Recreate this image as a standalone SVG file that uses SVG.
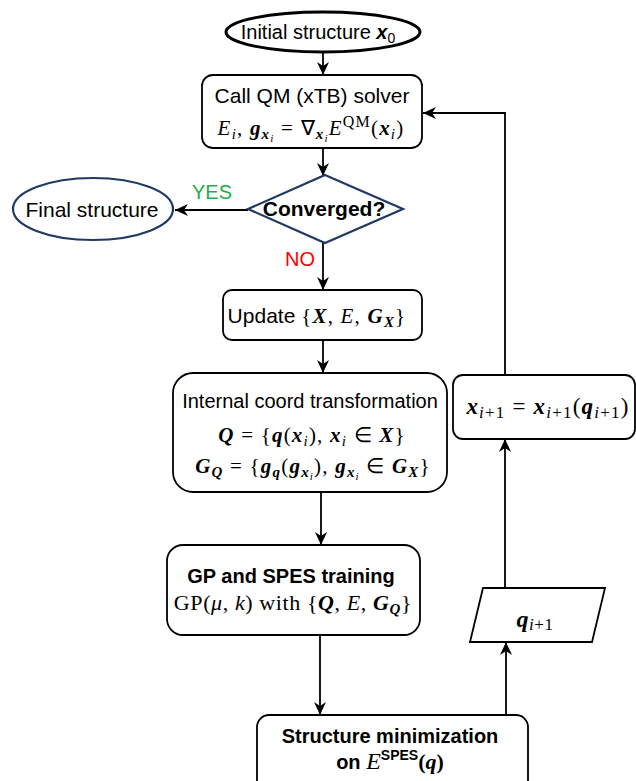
<svg xmlns="http://www.w3.org/2000/svg" width="636" height="781" viewBox="0 0 636 781">
<defs>
<marker id="arr" markerUnits="userSpaceOnUse" markerWidth="14" markerHeight="12" refX="13" refY="6" orient="auto">
<path d="M0,0 L13,6 L0,12 L4,6 z" fill="#000"/>
</marker>
<style>
.box{fill:#fff;stroke:#000;stroke-width:1.8}
.nav{fill:#fff;stroke:#1f3864;stroke-width:2.2}
.conn{fill:none;stroke:#000;stroke-width:1.8}
.sans{font-family:"Liberation Sans",Arial,sans-serif;fill:#000}
.m{font-family:"Liberation Serif","Times New Roman",serif;fill:#000;letter-spacing:1.2px}
.bi{font-weight:bold;font-style:italic}
.it{font-style:italic}
</style>
</defs>
<rect width="636" height="781" fill="#fff"/>

<g id="connectors">
<line class="conn" x1="323" y1="52" x2="323" y2="75" marker-end="url(#arr)"/>
<line class="conn" x1="323" y1="148" x2="323" y2="176" marker-end="url(#arr)"/>
<line class="conn" x1="248" y1="210" x2="175" y2="210" marker-end="url(#arr)"/>
<line class="conn" x1="323" y1="243" x2="323" y2="290" marker-end="url(#arr)"/>
<line class="conn" x1="323" y1="340" x2="323" y2="373" marker-end="url(#arr)"/>
<line class="conn" x1="321" y1="492" x2="321" y2="545" marker-end="url(#arr)"/>
<line class="conn" x1="320" y1="635" x2="320" y2="715" marker-end="url(#arr)"/>
<line class="conn" x1="506" y1="715" x2="506" y2="642" marker-end="url(#arr)"/>
<line class="conn" x1="505" y1="588" x2="505" y2="439" marker-end="url(#arr)"/>
<polyline class="conn" points="505,375 505,113 423,113" marker-end="url(#arr)"/>
<text class="sans" x="192" y="199" font-size="20" style="fill:#1fae4b">YES</text>
<text class="sans" x="285" y="266" font-size="20" style="fill:#ff0000">NO</text>
</g>

<g id="initial">
<ellipse cx="323" cy="32" rx="97" ry="20" fill="#fff" stroke="#000" stroke-width="3"/>
<text class="sans" x="318" y="39" font-size="20" text-anchor="middle">Initial structure <tspan class="bi">x</tspan><tspan font-size="14" dy="4">0</tspan></text>
</g>

<g id="callqm">
<rect class="box" x="202" y="75" width="220" height="73" rx="11"/>
<text class="sans" x="312" y="103" font-size="21" text-anchor="middle">Call QM (xTB) solver</text>
<text class="m" x="311" y="135" font-size="21" text-anchor="middle"><tspan class="it">E</tspan><tspan class="it" font-size="15" dy="4">i</tspan><tspan dy="-4">, </tspan><tspan class="bi">g</tspan><tspan class="bi" font-size="15" dy="4">x</tspan><tspan class="it" font-size="11" dy="3">i</tspan><tspan dy="-7"> = ∇</tspan><tspan class="bi" font-size="15" dy="4">x</tspan><tspan class="it" font-size="11" dy="3">i</tspan><tspan class="it" dy="-7">E</tspan><tspan font-size="16" dy="-8">QM</tspan><tspan dy="8">(</tspan><tspan class="bi">x</tspan><tspan class="it" font-size="15" dy="4">i</tspan><tspan dy="-4">)</tspan></text>
</g>

<g id="converged">
<polygon class="nav" points="325,175 403,209 325,243 248,209"/>
<text class="sans" x="324" y="216" font-size="21" font-weight="bold" text-anchor="middle">Converged?</text>
</g>

<g id="final">
<ellipse class="nav" cx="93" cy="209" rx="80" ry="31"/>
<text class="sans" x="92" y="217" font-size="21" text-anchor="middle">Final structure</text>
</g>

<g id="update">
<rect class="box" x="223" y="290" width="199" height="50" rx="9"/>
<text class="sans" x="317" y="323" font-size="21" text-anchor="middle">Update <tspan class="m">{</tspan><tspan class="m bi">X</tspan><tspan class="m">, </tspan><tspan class="m it">E</tspan><tspan class="m">, </tspan><tspan class="m bi">G</tspan><tspan class="m bi" font-size="15" dy="4">X</tspan><tspan class="m" dy="-4">}</tspan></text>
</g>

<g id="internal">
<rect class="box" x="173" y="373" width="274" height="119" rx="20"/>
<text class="sans" x="310" y="408" font-size="20" text-anchor="middle">Internal coord transformation</text>
<text class="m" x="312" y="442" font-size="21" text-anchor="middle"><tspan class="bi">Q</tspan> = {<tspan class="bi">q</tspan>(<tspan class="bi">x</tspan><tspan class="it" font-size="15" dy="4">i</tspan><tspan dy="-4">), </tspan><tspan class="bi">x</tspan><tspan class="it" font-size="15" dy="4">i</tspan><tspan dy="-4"> ∈ </tspan><tspan class="bi">X</tspan>}</text>
<text class="m" x="313" y="473" font-size="21" text-anchor="middle"><tspan class="bi">G</tspan><tspan class="bi" font-size="15" dy="4">Q</tspan><tspan dy="-4"> = {</tspan><tspan class="bi">g</tspan><tspan class="bi" font-size="15" dy="4">q</tspan><tspan dy="-4">(</tspan><tspan class="bi">g</tspan><tspan class="bi" font-size="15" dy="4">x</tspan><tspan class="it" font-size="11" dy="3">i</tspan><tspan dy="-7">), </tspan><tspan class="bi">g</tspan><tspan class="bi" font-size="15" dy="4">x</tspan><tspan class="it" font-size="11" dy="3">i</tspan><tspan dy="-7"> ∈ </tspan><tspan class="bi">G</tspan><tspan class="bi" font-size="15" dy="4">X</tspan><tspan dy="-4">}</tspan></text>
</g>

<g id="xnext">
<rect class="box" x="453" y="375" width="182" height="64" rx="10"/>
<text class="m" x="548" y="414" font-size="23" text-anchor="middle"><tspan class="bi">x</tspan><tspan font-size="17" dy="4"><tspan class="it">i</tspan>+1</tspan><tspan dy="-4"> = </tspan><tspan class="bi">x</tspan><tspan font-size="17" dy="4"><tspan class="it">i</tspan>+1</tspan><tspan dy="-4">(</tspan><tspan class="bi">q</tspan><tspan font-size="17" dy="4"><tspan class="it">i</tspan>+1</tspan><tspan dy="-4">)</tspan></text>
</g>

<g id="gp">
<rect class="box" x="167" y="545" width="253" height="90" rx="16"/>
<text class="sans" x="291" y="583" font-size="20" font-weight="bold" text-anchor="middle">GP and SPES training</text>
<text class="m" x="293" y="610" font-size="22" text-anchor="middle" style="letter-spacing:0.6px">GP(<tspan class="it">μ</tspan>, <tspan class="it">k</tspan>) with {<tspan class="bi">Q</tspan>, <tspan class="it">E</tspan>, <tspan class="bi">G</tspan><tspan class="bi" font-size="15" dy="4">Q</tspan><tspan dy="-4">}</tspan></text>
</g>

<g id="qnext">
<polygon class="box" points="483,588 605,588 592,642 470,642"/>
<text class="m" x="535" y="627" font-size="24" text-anchor="middle" style="letter-spacing:0.6px"><tspan class="bi">q</tspan><tspan font-size="17" dy="3"><tspan class="it">i</tspan>+1</tspan></text>
</g>

<g id="minimize">
<rect class="box" x="257" y="715" width="271" height="80" rx="12"/>
<text class="sans" x="390" y="743" font-size="20" font-weight="bold" text-anchor="middle">Structure minimization</text>
<text class="sans" x="390" y="769" font-size="20" font-weight="bold" text-anchor="middle">on <tspan class="m it" font-size="24" font-weight="normal" style="letter-spacing:0">E</tspan><tspan font-size="14" dy="-9">SPES</tspan><tspan class="m" font-size="22" dy="9" style="letter-spacing:0">(</tspan><tspan class="m bi" font-size="22" style="letter-spacing:0">q</tspan><tspan class="m" font-size="22" style="letter-spacing:0">)</tspan></text>
</g>
</svg>
